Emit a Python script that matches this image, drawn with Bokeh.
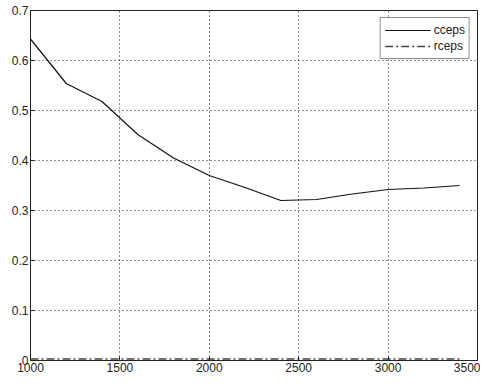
from bokeh.plotting import figure
from bokeh.models import FixedTicker, Legend, LegendItem, Range1d, CustomJSTickFormatter
from bokeh.embed import file_html
from bokeh.resources import INLINE

x_vals = [1000, 1200, 1400, 1600, 1800, 2000, 2200, 2400, 2600, 2800, 3000, 3200, 3400]
cceps = [0.643, 0.554, 0.518, 0.452, 0.405, 0.370, 0.346, 0.320, 0.322, 0.333, 0.342, 0.345, 0.350]
rceps = [0.003] * len(x_vals)
x_ticks = [1000, 1500, 2000, 2500, 3000, 3500]
y_ticks = [0, 0.1, 0.2, 0.3, 0.4, 0.5, 0.6, 0.7]

p = figure(frame_width=447, frame_height=350,
           min_border_left=30, min_border_top=10, min_border_right=3, min_border_bottom=16,
           x_range=Range1d(1000, 3500), y_range=Range1d(0, 0.7),
           output_backend="svg", toolbar_location=None)

p.background_fill_color = "white"
p.border_fill_color = "white"
p.outline_line_color = "#222222"
p.outline_line_width = 1

fmt = CustomJSTickFormatter(code="return (Math.round(tick*10)/10).toString();")

for ax in p.xaxis + p.yaxis:
    ax.major_label_text_font = "Liberation Sans"
    ax.major_label_text_font_size = "12px"
    ax.major_label_text_color = "#222222"
    ax.axis_line_color = "#222222"
    ax.major_tick_line_color = "#222222"
    ax.major_tick_in = 4
    ax.major_tick_out = 0
    ax.minor_tick_line_color = None
    ax.major_label_standoff = 2

p.xaxis.ticker = FixedTicker(ticks=x_ticks)
p.yaxis.ticker = FixedTicker(ticks=y_ticks)
p.yaxis.formatter = fmt

p.xgrid.ticker = FixedTicker(ticks=x_ticks)
p.ygrid.ticker = FixedTicker(ticks=y_ticks)
for g in (p.xgrid, p.ygrid):
    g.grid_line_color = "#222222"
    g.grid_line_dash = "1 3"
    g.grid_line_width = 1

r1 = p.line(x_vals, cceps, line_color="#111111", line_width=1.2)
r2 = p.line(x_vals, rceps, line_color="#444444", line_width=1.5, line_dash="8 3 2 3")

legend = Legend(items=[LegendItem(label="cceps", renderers=[r1]),
                       LegendItem(label="rceps", renderers=[r2])],
                location="top_right", margin=7, padding=4, spacing=0,
                glyph_width=46, glyph_height=16, label_height=16, label_standoff=3,
                label_text_font="Liberation Sans", label_text_font_size="12px",
                label_text_color="#222222",
                border_line_color="#222222", border_line_width=1,
                background_fill_color="white", background_fill_alpha=1)
p.add_layout(legend)

open("out.html", "w").write(file_html(p, INLINE))
